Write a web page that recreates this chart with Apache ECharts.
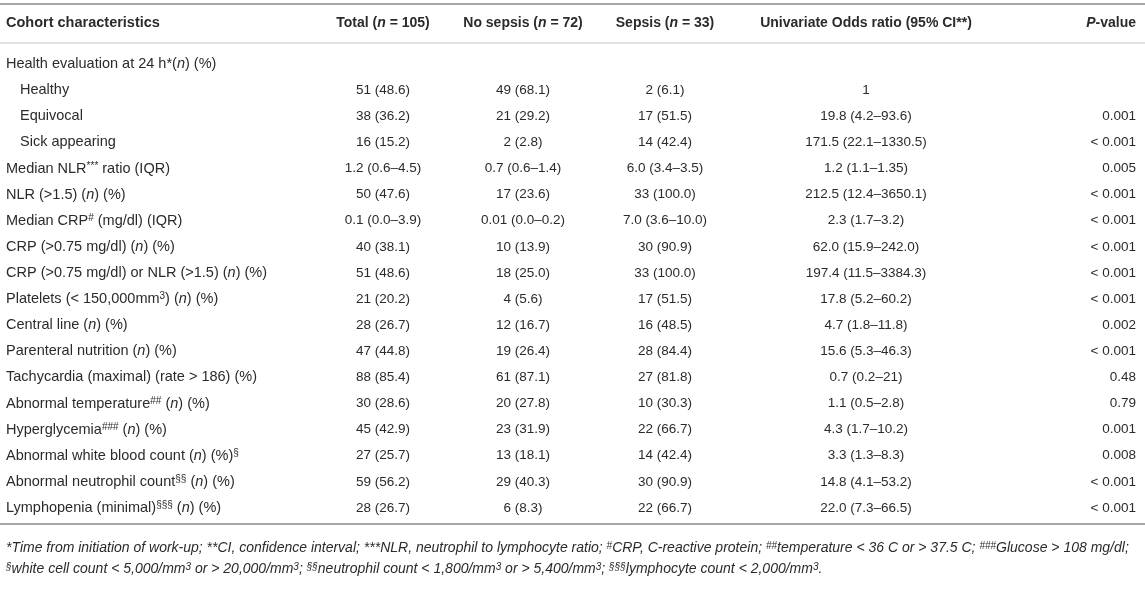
<!DOCTYPE html>
<html>
<head>
<meta charset="utf-8" />
<title>Cohort characteristics</title>
<script src="https://cdn.jsdelivr.net/npm/echarts@6.0.0/dist/echarts.min.js"></script>
<style>
  html, body { margin: 0; padding: 0; background: #fff; }
  #main { width: 1145px; height: 589px; }
</style>
</head>
<body>
<div id="main"></div>
<script type="text/javascript">
// ---- table content ----
var headers = [
    'Cohort characteristics',
    'Total ({bi|n} = 105)',
    'No sepsis ({bi|n} = 72)',
    'Sepsis ({bi|n} = 33)',
    'Univariate Odds ratio (95% CI**)',
    '{bi|P}-value'
];

var rowLabels = [
    'Health evaluation at 24 h*({i|n}) (%)',
    'Healthy',
    'Equivocal',
    'Sick appearing',
    'Median NLR{sup|***} ratio (IQR)',
    'NLR (>1.5) ({i|n}) (%)',
    'Median CRP{sup|#} (mg/dl) (IQR)',
    'CRP (>0.75 mg/dl) ({i|n}) (%)',
    'CRP (>0.75 mg/dl) or NLR (>1.5) ({i|n}) (%)',
    'Platelets (< 150,000mm{sup|3}) ({i|n}) (%)',
    'Central line ({i|n}) (%)',
    'Parenteral nutrition ({i|n}) (%)',
    'Tachycardia (maximal) (rate > 186) (%)',
    'Abnormal temperature{sup|##} ({i|n}) (%)',
    'Hyperglycemia{sup|###} ({i|n}) (%)',
    'Abnormal white blood count ({i|n}) (%){sup|§}',
    'Abnormal neutrophil count{sup|§§} ({i|n}) (%)',
    'Lymphopenia (minimal){sup|§§§} ({i|n}) (%)'
];
var subRows = [1, 2, 3];

var total = ['', '51 (48.6)', '38 (36.2)', '16 (15.2)', '1.2 (0.6–4.5)', '50 (47.6)',
    '0.1 (0.0–3.9)', '40 (38.1)', '51 (48.6)', '21 (20.2)', '28 (26.7)', '47 (44.8)',
    '88 (85.4)', '30 (28.6)', '45 (42.9)', '27 (25.7)', '59 (56.2)', '28 (26.7)'];
var noSepsis = ['', '49 (68.1)', '21 (29.2)', '2 (2.8)', '0.7 (0.6–1.4)', '17 (23.6)',
    '0.01 (0.0–0.2)', '10 (13.9)', '18 (25.0)', '4 (5.6)', '12 (16.7)', '19 (26.4)',
    '61 (87.1)', '20 (27.8)', '23 (31.9)', '13 (18.1)', '29 (40.3)', '6 (8.3)'];
var sepsis = ['', '2 (6.1)', '17 (51.5)', '14 (42.4)', '6.0 (3.4–3.5)', '33 (100.0)',
    '7.0 (3.6–10.0)', '30 (90.9)', '33 (100.0)', '17 (51.5)', '16 (48.5)', '28 (84.4)',
    '27 (81.8)', '10 (30.3)', '22 (66.7)', '14 (42.4)', '30 (90.9)', '22 (66.7)'];
var oddsRatio = ['', '1', '19.8 (4.2–93.6)', '171.5 (22.1–1330.5)', '1.2 (1.1–1.35)',
    '212.5 (12.4–3650.1)', '2.3 (1.7–3.2)', '62.0 (15.9–242.0)', '197.4 (11.5–3384.3)',
    '17.8 (5.2–60.2)', '4.7 (1.8–11.8)', '15.6 (5.3–46.3)', '0.7 (0.2–21)', '1.1 (0.5–2.8)',
    '4.3 (1.7–10.2)', '3.3 (1.3–8.3)', '14.8 (4.1–53.2)', '22.0 (7.3–66.5)'];
var pValue = ['', '', '0.001', '< 0.001', '0.005', '< 0.001', '< 0.001', '< 0.001',
    '< 0.001', '< 0.001', '0.002', '< 0.001', '0.48', '0.79', '0.001', '0.008',
    '< 0.001', '< 0.001'];

var footnotes = [
    '*Time from initiation of work-up; **CI, confidence interval; ***NLR, neutrophil to lymphocyte ratio; {s|#}CRP, C-reactive protein; {s|##}temperature < 36 C or > 37.5 C; {s|###}Glucose > 108 mg/dl;',
    '{s|§}white cell count < 5,000/mm{s|3} or > 20,000/mm{s|3}; {s|§§}neutrophil count < 1,800/mm{s|3} or > 5,400/mm{s|3}; {s|§§§}lymphocyte count < 2,000/mm{s|3}.'
];

// ---- layout ----
var FONT = '"Liberation Sans", Arial, Helvetica, sans-serif';
var TXT = '#2b2b2b';
var colX = [6, 383, 523, 665, 866, 1136];
var colAlign = ['left', 'center', 'center', 'center', 'center', 'right'];
var colSize = [14.5, 13.5, 13.5, 13.5, 13.5, 13.5];
var columns = [rowLabels, total, noSepsis, sepsis, oddsRatio, pValue];

var bodyRich = {
    i: { fontStyle: 'italic', fontSize: 14.5, fontFamily: FONT, fill: TXT },
    sup: { fontSize: 10, fontFamily: FONT, fill: TXT, verticalAlign: 'top' }
};
var headRich = {
    bi: { fontStyle: 'italic', fontWeight: 'bold', fontSize: 14, fontFamily: FONT, fill: TXT }
};
var footRich = {
    s: { fontStyle: 'italic', fontSize: 10, fontFamily: FONT, fill: TXT, verticalAlign: 'top' }
};

// build the cells: one item per non-empty text
var cells = [];
columns.forEach(function (col, c) {
    col.forEach(function (t, r) {
        if (t !== '') cells.push({ c: c, r: r, text: t });
    });
});

var myChart = echarts.init(document.getElementById('main'));

var graphics = [
    { type: 'rect', shape: { x: 0, y: 3, width: 1145, height: 2 }, style: { fill: '#a6a6a6' } },
    { type: 'rect', shape: { x: 0, y: 42.5, width: 1145, height: 1 }, style: { fill: '#c4c4c4' } },
    { type: 'rect', shape: { x: 0, y: 523, width: 1145, height: 2 }, style: { fill: '#a6a6a6' } }
];
headers.forEach(function (h, c) {
    graphics.push({
        type: 'text', x: colX[c], y: 23,
        style: {
            text: h, align: colAlign[c], verticalAlign: 'middle',
            fontSize: c === 0 ? 14.5 : 14, fontWeight: 'bold', fontFamily: FONT, fill: TXT, rich: headRich
        }
    });
});
footnotes.forEach(function (f, k) {
    graphics.push({
        type: 'text', x: 6, y: 548 + k * 21,
        style: {
            text: f, align: 'left', verticalAlign: 'middle',
            fontSize: 14, fontStyle: 'italic', fontFamily: FONT, fill: TXT, rich: footRich
        }
    });
});

myChart.setOption({
    animation: false,
    grid: { left: 0, right: 0, top: 51, height: 470 },
    xAxis: { type: 'value', min: 0, max: 1145, show: false },
    yAxis: {
        type: 'category', inverse: true, show: false,
        data: rowLabels.map(function (l, i) { return i; })
    },
    graphic: graphics,
    series: [{
        type: 'custom',
        data: cells.map(function (d) { return [colX[d.c], d.r]; }),
        renderItem: function (params, api) {
            var d = cells[params.dataIndex];
            var pt = api.coord([api.value(0), api.value(1)]);
            var x = pt[0];
            if (d.c === 0 && subRows.indexOf(d.r) >= 0) x += 14;
            return {
                type: 'text', x: x, y: pt[1],
                style: {
                    text: d.text, align: colAlign[d.c], verticalAlign: 'middle',
                    fontSize: colSize[d.c], fontFamily: FONT, fill: TXT, rich: bodyRich
                }
            };
        }
    }]
});
</script>
</body>
</html>
